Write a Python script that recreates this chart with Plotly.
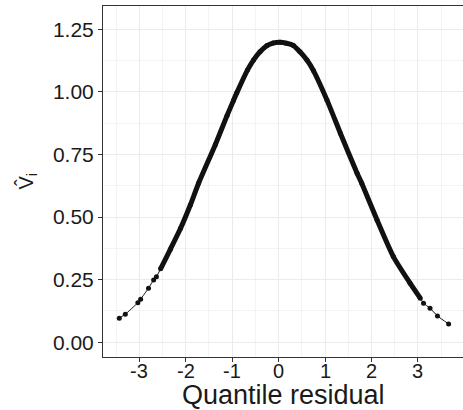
import plotly.graph_objects as go

# values
residual = [-3.43, -3.30, -3.03, -2.97, -2.80, -2.69, -2.63, -2.54, -2.33, -2.11,
            -1.90, -1.72, -1.36, -1.11, -0.97, -0.90, -0.67, -0.54, -0.40, -0.25,
            -0.12, 0.03, 0.17, 0.32, 0.46, 0.61, 0.75, 1.04, 1.33, 1.69,
            1.79, 2.12, 2.47, 2.83, 3.05, 3.12, 3.26, 3.42, 3.66]
v_hat = [0.096, 0.112, 0.158, 0.172, 0.216, 0.249, 0.262, 0.293, 0.371, 0.455,
         0.548, 0.636, 0.790, 0.905, 0.966, 0.996, 1.087, 1.127, 1.160, 1.185,
         1.195, 1.198, 1.194, 1.185, 1.160, 1.127, 1.085, 0.968, 0.835, 0.675,
         0.635, 0.488, 0.342, 0.236, 0.176, 0.156, 0.136, 0.105, 0.073]
x_ticks = [-3, -2, -1, 0, 1, 2, 3]
x_tick_labels = ["-3", "-2", "-1", "0", "1", "2", "3"]
y_ticks = [0.00, 0.25, 0.50, 0.75, 1.00, 1.25]
y_tick_labels = ["0.00", "0.25", "0.50", "0.75", "1.00", "1.25"]
x_title = "Quantile residual"
y_title = "V\u0302<sub>i</sub>"

dense_x = [x for x in residual if -2.55 <= x <= 3.06]
dense_y = [y for x, y in zip(residual, v_hat) if -2.55 <= x <= 3.06]

FONT = "Liberation Sans, Arial, Helvetica, sans-serif"
INK = "#1a1a1a"

fig = go.Figure()
fig.add_trace(go.Scatter(x=residual, y=v_hat, mode="lines+markers",
                         line=dict(color="#111111", width=1, shape="spline", smoothing=0.6),
                         marker=dict(color="#111111", size=5),
                         hoverinfo="skip", showlegend=False))
fig.add_trace(go.Scatter(x=dense_x, y=dense_y, mode="lines",
                         line=dict(color="#111111", width=5, shape="spline", smoothing=0.6),
                         hoverinfo="skip", showlegend=False))

annotations = [
    dict(text=lab, xref="x", yref="paper", x=v, y=0, xanchor="center", yanchor="middle",
         yshift=-14, showarrow=False, font=dict(size=20, color=INK))
    for v, lab in zip(x_ticks, x_tick_labels)
]
annotations += [
    dict(text=x_title, xref="paper", yref="paper", x=0.5, y=0,
         xanchor="center", yanchor="middle", yshift=-38,
         showarrow=False, font=dict(size=27, color=INK)),
    dict(text=y_title, xref="paper", yref="paper", x=0, y=0.5,
         xanchor="center", yanchor="middle", xshift=-76, yshift=0,
         textangle=-90, showarrow=False, font=dict(size=20, color=INK)),
]

fig.update_layout(
    width=463, height=410,
    margin=dict(l=103, r=0, t=6, b=53),
    paper_bgcolor="white", plot_bgcolor="white",
    font=dict(family=FONT, color=INK),
    xaxis=dict(range=[-3.78, 3.97], tickvals=x_ticks, showticklabels=False,
               automargin=False,
               showgrid=True, gridcolor="#ebebeb", gridwidth=1,
               minor=dict(dtick=0.5, showgrid=True, gridcolor="#f4f4f4", gridwidth=1),
               showline=True, linecolor="#333333", linewidth=1, mirror=True,
               ticks="outside", ticklen=4, tickcolor="#333333", zeroline=False),
    yaxis=dict(range=[-0.059, 1.343], tickvals=y_ticks, ticktext=y_tick_labels,
               automargin=False,
               showgrid=True, gridcolor="#ebebeb", gridwidth=1,
               minor=dict(dtick=0.125, showgrid=True, gridcolor="#f4f4f4", gridwidth=1),
               showline=True, linecolor="#333333", linewidth=1, mirror=False,
               ticks="outside", ticklen=4, tickcolor="#333333",
               tickfont=dict(size=21, color=INK), zeroline=False),
    annotations=annotations,
)

fig.write_html("out.html", config={"displayModeBar": False},
               post_script="document.body.style.margin='0';document.body.style.overflow='hidden';")
